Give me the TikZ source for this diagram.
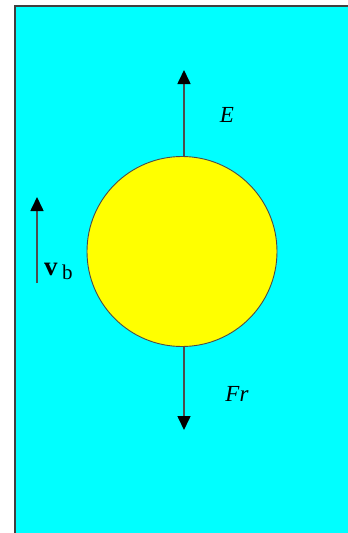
\documentclass[tikz,border=0pt]{standalone}
\usepackage{fontspec}
\setmainfont{Liberation Serif}
\usetikzlibrary{arrows.meta, positioning}
\definecolor{bgcyan}{RGB}{0,255,255}
\definecolor{ballyellow}{RGB}{255,255,0}

\begin{document}
\begin{tikzpicture} [
    x=1pt, y=-1pt,
    ball/.style={circle, draw=black!70, line width=0.9pt, fill=ballyellow, minimum size=190pt, inner sep=0pt},
    line/.style={draw=black!70, line width=1.6pt, -{Triangle[length=14pt, width=13pt, color=black]}},
    anno/.style={font=\fontsize{23}{26}\selectfont, inner sep=0pt}
]
    \useasboundingbox (0,0) rectangle (348,533);
    % Background
    \fill[bgcyan] (15,6) rectangle (349,534);
    \draw[black!75, line width=1.8pt] (15,534) -- (15,6) -- (349,6);

    % Nodes
    \node[ball] (ball) at (182,251.5) {};
    \coordinate (e_tip) at (184,70);
    \coordinate (fr_tip) at (184,430);
    \coordinate (vb_start) at (37,283);
    \coordinate (vb_tip) at (37,197);

    \node[anno] (e_label) at (227,115) {\textit{E}};
    \node[anno] (fr_label) at (237,394) {\textit{Fr}};
    \node[anno, anchor=base west] (vb_label) at (44,275)
        {\fontsize{27}{30}\selectfont\textbf{v}\,\raisebox{-4pt}{\fontsize{21}{24}\selectfont b}};

    % Arrows
    \path [line] (ball.north -| e_tip) -- (e_tip);
    \path [line] (ball.south -| fr_tip) -- (fr_tip);
    \path [line] (vb_start) -- (vb_tip);

\end{tikzpicture}
\end{document}
